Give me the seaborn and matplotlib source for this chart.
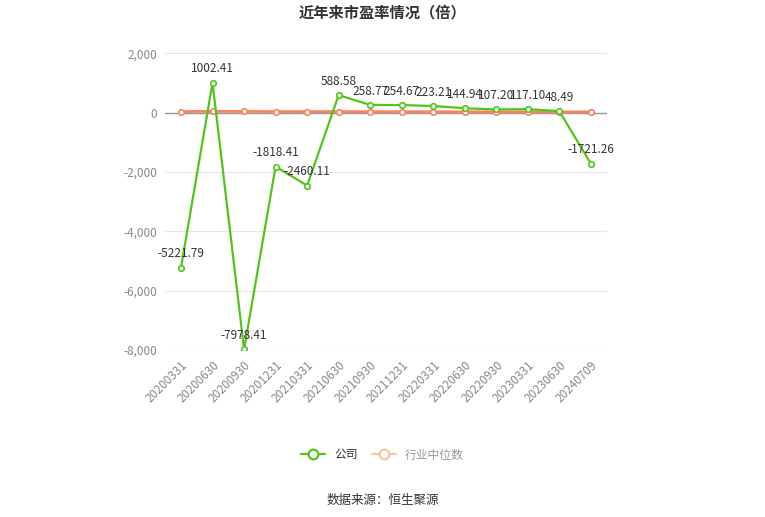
import numpy as np
import pandas as pd
import matplotlib
matplotlib.use('Agg')
import matplotlib.pyplot as plt
from matplotlib.lines import Line2D
import seaborn as sns

dates = ['20200331', '20200630', '20200930', '20201231', '20210331', '20210630', '20210930',
         '20211231', '20220331', '20220630', '20220930', '20230331', '20230630', '20240709']
company = [-5221.79, 1002.41, -7978.41, -1818.41, -2460.11, 588.58, 258.77,
           254.67, 223.21, 144.94, 107.20, 117.10, 48.49, -1721.26]
industry = [35, 42, 38, 36, 34, 33, 31, 30, 29, 28, 27, 26, 25, 25]

sns.set_style('white')
plt.rcParams['font.family'] = ['Noto Sans CJK SC', 'DejaVu Sans']

df = pd.DataFrame({'x': np.arange(len(dates)), 'company': company, 'industry': industry})

fig = plt.figure(figsize=(7.65, 5.17), dpi=100)
ax = fig.add_axes([0.216, 0.323, 0.577, 0.574])

green = '#52c41a'
orange = '#f7845e'

sns.lineplot(data=df, x='x', y='industry', ax=ax, color=orange, linewidth=2, marker='o',
             markersize=4, markerfacecolor='white', markeredgecolor=orange, markeredgewidth=1.2,
             legend=False, zorder=3)
sns.lineplot(data=df, x='x', y='company', ax=ax, color=green, linewidth=1.6, marker='o',
             markersize=4, markerfacecolor='white', markeredgecolor=green, markeredgewidth=1.2,
             legend=False, zorder=4)

for i, v in enumerate(company):
    ax.text(i, v + 250, f'{v:.2f}', ha='center', va='bottom', fontsize=8.5, color='#333333', zorder=5)

ax.set_ylim(-8000, 2000)
ax.set_xlim(-0.5, len(dates) - 0.5)
ax.set_yticks([-8000, -6000, -4000, -2000, 0, 2000])
ax.set_yticklabels(['-8,000', '-6,000', '-4,000', '-2,000', '0', '2,000'], color='#888888', fontsize=8.5)
ax.set_xticks(df['x'])
ax.set_xticklabels(dates, rotation=45, ha='right', rotation_mode='anchor', color='#888888', fontsize=8.5)
ax.tick_params(axis='both', length=0, pad=6)
ax.grid(axis='y', color='#e6e6f0', linewidth=0.8)
ax.axhline(0, color='#999999', linewidth=1, zorder=2)
for s in ax.spines.values():
    s.set_visible(False)
ax.set_xlabel('')
ax.set_ylabel('')

h_comp = Line2D([], [], color=green, linewidth=1.6, marker='o', markersize=7,
                markerfacecolor='white', markeredgecolor=green, markeredgewidth=1.6)
h_ind = Line2D([], [], color='#f9c3ad', linewidth=1.6, marker='o', markersize=7,
               markerfacecolor='white', markeredgecolor='#f9c3ad', markeredgewidth=1.6)
leg = fig.legend([h_comp, h_ind], ['公司', '行业中位数'], loc='center',
                 bbox_to_anchor=(0.5, 0.12), ncol=2, frameon=False, fontsize=8.5,
                 handlelength=2, columnspacing=1.2)
for t, c in zip(leg.get_texts(), ['#333333', '#999999']):
    t.set_color(c)

fig.text(0.5, 0.975, '近年来市盈率情况（倍）', ha='center', va='center', fontsize=11,
         fontweight='bold', color='#333333')
fig.text(0.5, 0.033, '数据来源：恒生聚源', ha='center', va='center', fontsize=9, color='#333333')

fig.savefig('out.png', dpi=100)
